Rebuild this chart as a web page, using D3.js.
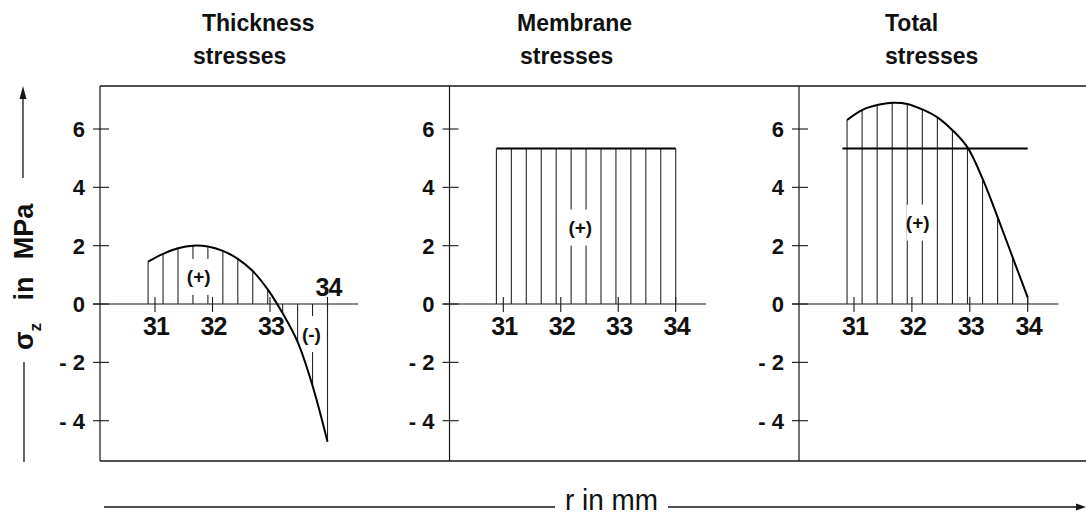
<!DOCTYPE html>
<html>
<head>
<meta charset="utf-8">
<script src="https://cdn.jsdelivr.net/npm/d3@7"></script>
<style>
  html, body { margin: 0; padding: 0; background: #fff; }
  svg { display: block; }
  text { font-family: "Liberation Sans", Arial, Helvetica, sans-serif; fill: #111; }
</style>
</head>
<body>
<svg id="chart" width="1086" height="517"></svg>
<script>
// Radial positions of the hatch lines (mm) shared by all three panels
const rHatch = [30.88, 31.14, 31.40, 31.66, 31.92, 32.18, 32.44, 32.70, 32.96, 33.22, 33.48, 33.74, 34.00];
// Thickness (bending) stresses sigma_z in MPa at rHatch
const thickness = [1.45, 1.72, 1.91, 2.00, 1.97, 1.82, 1.55, 1.13, 0.50, -0.32, -1.30, -2.80, -4.72];
// Membrane stress, constant through the wall (MPa)
const membraneStress = 5.33;
const membraneLineR = [30.80, 34.00];
// Total stresses sigma_z in MPa at rHatch
const total = [6.31, 6.65, 6.82, 6.90, 6.86, 6.67, 6.40, 5.96, 5.37, 4.30, 2.98, 1.60, 0.23];
// Axis ticks
const rTicks = [31, 32, 33, 34];
const sigmaTicks = [-4, -2, 0, 2, 4, 6];
const titles = [["Thickness", "stresses"], ["Membrane", "stresses"], ["Total", "stresses"]];
// Sign markers inside the hatched areas: [panel, r, sigma, text]
const signLabels = [[0, 31.76, 0.93, "(+)"], [0, 33.72, -1.03, "(-)"], [1, 32.34, 2.62, "(+)"], [2, 32.10, 2.79, "(+)"]];

const svg = d3.select("#chart");
const W = 1086, frameTop = 86, frameBottom = 461;

const y = d3.scaleLinear().domain([-4, 6]).range([420.7, 129]);

// panel layout: y-axis position, x range for r = 31..34, title start positions
const panels = [
  { axisX: 100,   xr: [155, 327.5],   t1: 202, t2: 193 },
  { axisX: 449.5, xr: [503.3, 675.7], t1: 517, t2: 520 },
  { axisX: 799,   xr: [854, 1027.7],  t1: 885, t2: 885 }
];
panels.forEach(p => { p.x = d3.scaleLinear().domain([31, 34]).range(p.xr); });

const ink = "#161616";

// frame: top and bottom rules, panel separators
svg.append("line").attr("x1", 100).attr("x2", W).attr("y1", frameTop).attr("y2", frameTop)
  .attr("stroke", ink).attr("stroke-width", 1.3);
svg.append("line").attr("x1", 100).attr("x2", W).attr("y1", frameBottom).attr("y2", frameBottom)
  .attr("stroke", ink).attr("stroke-width", 1.6);

panels.forEach((p, i) => {
  const g = svg.append("g");
  // vertical axis line
  g.append("line").attr("x1", p.axisX).attr("x2", p.axisX).attr("y1", frameTop).attr("y2", frameBottom)
    .attr("stroke", ink).attr("stroke-width", 1.2);
  // y ticks crossing the axis
  g.selectAll(".yt").data(sigmaTicks).join("line")
    .attr("x1", p.axisX - 7).attr("x2", p.axisX + 9)
    .attr("y1", d => y(d)).attr("y2", d => y(d))
    .attr("stroke", ink).attr("stroke-width", 1.1);
  g.selectAll(".yl").data(sigmaTicks).join("text")
    .attr("x", p.axisX - 15).attr("y", d => y(d) + 8)
    .attr("text-anchor", "end").attr("font-size", 22).attr("font-weight", "bold")
    .text(d => d < 0 ? "- " + Math.abs(d) : String(d));
  // r axis at sigma = 0
  g.append("line").attr("x1", p.axisX - 7).attr("x2", p.x(34.53))
    .attr("y1", y(0)).attr("y2", y(0)).attr("stroke", ink).attr("stroke-width", 1.2);
  g.selectAll(".xt").data(rTicks).join("line")
    .attr("x1", d => p.x(d)).attr("x2", d => p.x(d))
    .attr("y1", y(0) - 7).attr("y2", y(0) + 8)
    .attr("stroke", ink).attr("stroke-width", 1.1);
  g.selectAll(".xl").data(rTicks).join("text")
    .attr("x", d => p.x(d) + 1)
    .attr("y", d => (i === 0 && d === 34) ? y(0) - 8 : y(0) + 31)
    .attr("text-anchor", "middle").attr("font-size", 25).attr("font-weight", "bold")
    .attr("letter-spacing", -0.8)
    .text(d => d);
  // titles
  g.append("text").attr("x", p.t1).attr("y", 31).attr("font-size", 23).attr("font-weight", "bold").text(titles[i][0]);
  g.append("text").attr("x", p.t2).attr("y", 64).attr("font-size", 23).attr("font-weight", "bold").text(titles[i][1]);
  p.g = g;
  p.marks = g.append("g");
  p.labels = g.append("g");
  p.curves = g.append("g");
});

const hatch = (p, values) => {
  p.marks.selectAll("line").data(rHatch).join("line")
    .attr("x1", d => p.x(d)).attr("x2", d => p.x(d))
    .attr("y1", y(0)).attr("y2", (d, k) => y(values[k]))
    .attr("stroke", "#262626").attr("stroke-width", 1.1);
};
const smooth = d3.curveCatmullRom.alpha(0.5);

// Panel 1: thickness stresses
{
  const p = panels[0];
  hatch(p, thickness);
  const line = d3.line().x(d => p.x(d[0])).y(d => y(d[1])).curve(smooth);
  p.curves.append("path").datum(d3.zip(rHatch, thickness)).attr("d", line)
    .attr("fill", "none").attr("stroke", "#000").attr("stroke-width", 2);
}
// Panel 2: membrane stresses
{
  const p = panels[1];
  hatch(p, rHatch.map(() => membraneStress));
  p.curves.append("line").attr("x1", p.x(rHatch[0])).attr("x2", p.x(rHatch[rHatch.length - 1]))
    .attr("y1", y(membraneStress)).attr("y2", y(membraneStress))
    .attr("stroke", "#000").attr("stroke-width", 2);
}
// Panel 3: total stresses with membrane level
{
  const p = panels[2];
  hatch(p, total);
  const line = d3.line().x(d => p.x(d[0])).y(d => y(d[1])).curve(smooth);
  p.curves.append("path").datum(d3.zip(rHatch, total)).attr("d", line)
    .attr("fill", "none").attr("stroke", "#000").attr("stroke-width", 2);
  p.curves.append("line").attr("x1", p.x(membraneLineR[0])).attr("x2", p.x(membraneLineR[1]))
    .attr("y1", y(membraneStress)).attr("y2", y(membraneStress))
    .attr("stroke", "#000").attr("stroke-width", 2);
}

// sign markers with a white knockout behind them (curves stay on top)
signLabels.forEach(([pi, r, s, t]) => {
  const p = panels[pi];
  const cx = p.x(r), cy = y(s);
  p.labels.append("rect").attr("x", cx - 11).attr("y", cy - 18).attr("width", 22).attr("height", 36).attr("fill", "#fff");
  p.labels.append("text").attr("x", cx).attr("y", cy + 6.5).attr("text-anchor", "middle")
    .attr("font-size", 19).attr("font-weight", "bold").text(t);
});

// y-axis title with arrows
const yt = svg.append("g");
yt.append("line").attr("x1", 23).attr("x2", 23).attr("y1", 178).attr("y2", 96).attr("stroke", ink).attr("stroke-width", 1.3);
yt.append("path").attr("d", "M23,86 L19.5,99 L26.5,99 Z").attr("fill", ink);
yt.append("line").attr("x1", 24).attr("x2", 24).attr("y1", 362).attr("y2", 462).attr("stroke", ink).attr("stroke-width", 1.3);
const rot = (t, cy) => yt.append("text").attr("transform", `translate(33,${cy}) rotate(-90)`)
  .attr("text-anchor", "middle").attr("font-size", 27).attr("font-weight", "bold").text(t);
rot("MPa", 231.5);
rot("in", 288.5);
const sig = yt.append("text").attr("transform", "translate(33,336.5) rotate(-90)")
  .attr("text-anchor", "middle").attr("font-size", 27).attr("font-weight", "bold");
sig.append("tspan").text("σ");
sig.append("tspan").attr("dy", 8).attr("font-size", 17).text("z");

// r-axis title with arrow
const xt = svg.append("g");
xt.append("line").attr("x1", 104).attr("x2", 555).attr("y1", 507).attr("y2", 507).attr("stroke", ink).attr("stroke-width", 1.3);
xt.append("line").attr("x1", 668).attr("x2", 1078).attr("y1", 507).attr("y2", 507).attr("stroke", ink).attr("stroke-width", 1.3);
xt.append("path").attr("d", "M1086,507 L1076,503.5 L1076,510.5 Z").attr("fill", ink);
xt.append("text").attr("x", 565).attr("y", 510).attr("font-size", 29)
  .attr("textLength", 93).attr("lengthAdjust", "spacingAndGlyphs").text("r in mm");
</script>
</body>
</html>
